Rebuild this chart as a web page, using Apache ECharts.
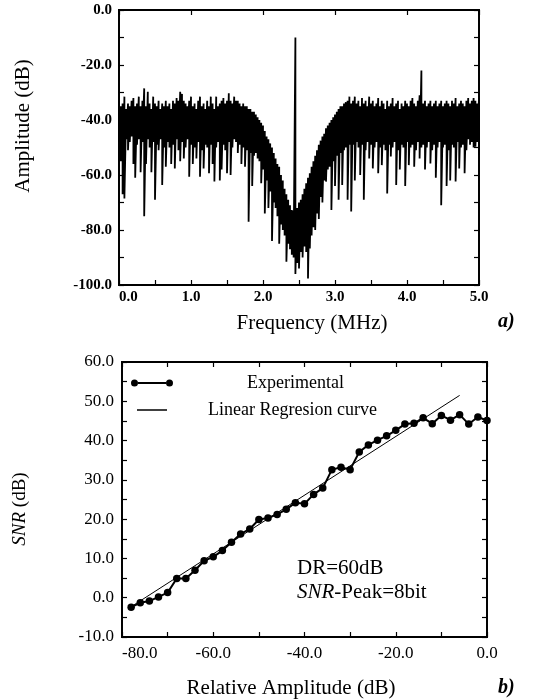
<!DOCTYPE html>
<html>
<head>
<meta charset="utf-8">
<script src="https://cdn.jsdelivr.net/npm/echarts@6/dist/echarts.min.js"></script>
<style>
html,body{margin:0;padding:0;background:#fff;}
#chart{width:536px;height:699px;}
</style>
</head>
<body>
<div id="chart"></div>
<script>
// ---------- Panel a) spectrum ----------
// bins every 0.025 MHz from 0.0 to 5.0 MHz (201 bins)
const FREQ_STEP = 0.025;
const freqTicks = ['0.0', '1.0', '2.0', '3.0', '4.0', '5.0'];
// upper edge of the noisy trace in each bin (dB)
const specUpper = [
  -33, -35, -34, -31.5, -36, -34, -35, -33, -32, -35,
  -34, -31.5, -35, -33, -28.5, -35, -29.7, -34, -36, -31.5,
  -34, -35, -33, -36, -34, -35, -33, -35, -34, -36,
  -33, -34, -32, -33, -29.7, -30.5, -33, -34, -35, -33,
  -31.5, -35, -34, -36, -33, -31.5, -35, -34, -36, -33,
  -35, -31.5, -34, -36, -31.5, -35, -34, -33, -32, -34,
  -33, -30.3, -33, -34, -31.5, -33, -33, -34, -35, -34,
  -35, -35, -36, -36, -37, -37, -38, -39, -40, -41,
  -42, -44, -46, -47, -48.5, -50, -52, -54, -56, -57,
  -60, -62, -65, -67, -69, -71, -72.7, -73, -10, -72,
  -70, -69, -67, -65, -63, -61, -59.4, -57, -55, -53,
  -51, -49, -47.5, -46, -45, -43, -42, -41, -40, -39,
  -38, -37, -36, -35, -35, -34, -33.5, -33, -31.5, -34,
  -33, -31.5, -34, -33, -35, -32, -34, -33, -35, -31.5,
  -34, -33, -35, -34, -32, -35, -33, -34, -36, -33,
  -35, -34, -32, -35, -34, -33, -36, -34, -35, -33,
  -34, -35, -33, -32, -34, -35, -33, -31, -22, -34,
  -33, -35, -34, -33, -35, -34, -33, -35, -34, -33,
  -35, -34, -33, -34, -35, -33, -34, -32, -35, -34,
  -33, -34, -35, -33, -32, -34, -33, -32, -33, -34,
  -32
];
// lower edge of the noisy trace in each bin (dB)
const specLower = [
  -48, -55, -67, -68.5, -47, -51, -48, -46, -56, -61,
  -49, -47, -59, -48, -75, -56, -47, -50, -59, -48,
  -69, -49, -51, -47, -63.6, -50, -57, -48, -50, -56,
  -49, -57.6, -47, -51, -55, -48, -54, -50, -47, -60.6,
  -49, -56, -50, -54, -48, -60.6, -51, -57.6, -49, -50,
  -59.4, -49, -56, -62.4, -50, -48, -62, -58, -49, -51,
  -59.4, -48, -60, -50, -47, -48, -52, -49, -56, -50,
  -57, -51, -77, -52, -64, -53, -52, -54, -55, -63,
  -58, -74, -62, -72, -66, -84, -70, -72, -75, -85,
  -78, -80, -82, -91.5, -85, -87, -89, -90, -96, -92,
  -94, -88, -90, -86, -88, -97.6, -86.7, -82, -79, -80,
  -74, -76, -68, -70, -62, -62.4, -58, -57, -72.7, -55,
  -64, -53, -69, -52, -63.6, -51, -50, -69, -49, -73.3,
  -49, -62, -48, -50, -60, -49, -69, -51, -48, -54,
  -49, -57.6, -50, -48, -59.4, -50, -56.4, -49, -51, -66.7,
  -49, -53.3, -50, -48, -63.6, -51, -58, -49, -50, -64,
  -48, -56.4, -50, -49, -57, -51, -48, -54, -50, -49,
  -58, -50, -48, -55.8, -51, -49, -61, -50, -48, -71,
  -50, -49, -64, -51, -62, -49, -50, -62.4, -48, -57.6,
  -50, -49, -59.4, -51, -47, -49, -48, -50, -49.7, -48,
  -52.7
];

// ---------- Panel b) SNR ----------
const ampTicks = ['-80.0', '-60.0', '-40.0', '-20.0', '0.0'];
const snrX = [-78, -76, -74, -72, -70, -68, -66, -64, -62, -60,
              -58, -56, -54, -52, -50, -48, -46, -44, -42, -40,
              -38, -36, -34, -32, -30, -28, -26, -24, -22, -20,
              -18, -16, -14, -12, -10, -8, -6, -4, -2, 0];
const snrY = [-2.4, -1.3, -0.85, 0.2, 1.3, 4.9, 4.9, 7.0, 9.4, 10.4,
              12.0, 14.1, 16.2, 17.5, 19.9, 20.3, 21.2, 22.5, 24.2, 23.9,
              26.3, 27.9, 32.6, 33.2, 32.6, 37.1, 38.9, 40.1, 41.2, 42.6,
              44.2, 44.4, 45.8, 44.3, 46.4, 45.2, 46.6, 44.2, 46.0, 45.1];
const regX = [-78, -6];
const regY = [-2.3, 51.5];

// ---------- build ----------
const FONT = '"Liberation Serif", "Times New Roman", serif';
const specData = [];
for (let i = 0; i < specUpper.length; i++) {
  const f = +(i * FREQ_STEP).toFixed(4);
  specData.push([f, specUpper[i]]);
  specData.push([f, specLower[i]]);
}
const expData = snrX.map((x, i) => [x, snrY[i]]);
const regData = regX.map((x, i) => [x, regY[i]]);

function axisBase(extra) {
  return Object.assign({
    type: 'value',
    splitLine: { show: false },
    axisLine: { show: true, onZero: false, lineStyle: { color: '#000', width: 1.8 } },
    axisTick: { show: true, inside: true, length: 5, lineStyle: { color: '#000', width: 1.2 } },
    minorTick: { show: true, splitNumber: 2, length: 5, lineStyle: { color: '#000', width: 1.2 } },
    minorSplitLine: { show: false }
  }, extra);
}
const fmt1 = v => v.toFixed(1);

const chart = echarts.init(document.getElementById('chart'), null, { renderer: 'canvas' });
chart.setOption({
  animation: false,
  backgroundColor: '#fff',
  grid: [
    { left: 119, top: 10, width: 360, height: 275, show: true, borderColor: '#000', borderWidth: 1.8, backgroundColor: 'transparent' },
    { left: 122, top: 362, width: 365, height: 275, show: true, borderColor: '#000', borderWidth: 1.8, backgroundColor: 'transparent' }
  ],
  xAxis: [
    axisBase({ gridIndex: 0, min: 0, max: 5, interval: 1, position: 'bottom',
      axisLabel: { show: true, color: '#000', fontFamily: FONT, fontSize: 15, fontWeight: 'bold', margin: 5,
        formatter: v => freqTicks[Math.round(v)], alignMinLabel: 'left' } }),
    axisBase({ gridIndex: 0, min: 0, max: 5, interval: 1, position: 'top',
      minorTick: { show: false }, axisLabel: { show: false } }),
    axisBase({ gridIndex: 1, min: -80, max: 0, interval: 20, position: 'bottom',
      axisLabel: { show: true, color: '#000', fontFamily: FONT, fontSize: 17, margin: 8,
        formatter: v => ampTicks[Math.round((v + 80) / 20)], alignMinLabel: 'left' } }),
    axisBase({ gridIndex: 1, min: -80, max: 0, interval: 20, position: 'top',
      axisLabel: { show: false } })
  ],
  yAxis: [
    axisBase({ gridIndex: 0, min: -100, max: 0, interval: 20, position: 'left',
      axisLabel: { show: true, color: '#000', fontFamily: FONT, fontSize: 15, fontWeight: 'bold', margin: 7, formatter: fmt1 } }),
    axisBase({ gridIndex: 0, min: -100, max: 0, interval: 20, position: 'right',
      axisLabel: { show: false } }),
    axisBase({ gridIndex: 1, min: -10, max: 60, interval: 10, position: 'left',
      axisLabel: { show: true, color: '#000', fontFamily: FONT, fontSize: 17, margin: 8, formatter: fmt1 } }),
    axisBase({ gridIndex: 1, min: -10, max: 60, interval: 10, position: 'right',
      axisLabel: { show: false } })
  ],
  legend: [
    {
      data: ['Experimental'], left: 131, top: 372, orient: 'vertical', padding: 0,
      itemWidth: 42, itemHeight: 7, selectedMode: false, symbolKeepAspect: false,
      icon: 'path://M0,3.5a3.5,3.5 0 1,0 7,0a3.5,3.5 0 1,0 -7,0zM35,3.5a3.5,3.5 0 1,0 7,0a3.5,3.5 0 1,0 -7,0zM7,2.5h28v2h-28z',
      formatter: n => '{p|' + n + '}',
      textStyle: { color: '#000', fontFamily: FONT, fontSize: 18, lineHeight: 22,
        rich: { p: { color: '#000', fontFamily: FONT, fontSize: 18, padding: [0, 0, 0, 69] } } }
    },
    {
      data: ['Linear Regresion curve'], left: 137, top: 399, orient: 'vertical', padding: 0,
      itemWidth: 30, itemHeight: 1.5, selectedMode: false, icon: 'rect',
      formatter: n => '{p|' + n + '}',
      textStyle: { color: '#000', fontFamily: FONT, fontSize: 18, lineHeight: 22,
        rich: { p: { color: '#000', fontFamily: FONT, fontSize: 18, padding: [0, 0, 0, 36] } } }
    }
  ],
  series: [
    {
      name: 'Spectrum', type: 'line', xAxisIndex: 0, yAxisIndex: 0,
      data: specData, symbol: 'none', showSymbol: false, silent: true,
      lineStyle: { color: '#000', width: 1.8 }, itemStyle: { color: '#000' }, clip: true
    },
    {
      name: 'Experimental', type: 'line', xAxisIndex: 2, yAxisIndex: 2,
      data: expData, symbol: 'circle', symbolSize: 7.5, showSymbol: true,
      lineStyle: { color: '#000', width: 2 }, itemStyle: { color: '#000' }
    },
    {
      name: 'Linear Regresion curve', type: 'line', xAxisIndex: 2, yAxisIndex: 2,
      data: regData, symbol: 'none', showSymbol: false,
      lineStyle: { color: '#000', width: 1 }, itemStyle: { color: '#000' }
    }
  ],
  graphic: [
    { type: 'text', x: 312, y: 323, silent: true,
      style: { text: 'Frequency (MHz)', fill: '#000', fontFamily: FONT, fontSize: 21,
        align: 'center', verticalAlign: 'middle', textAlign: 'center', textVerticalAlign: 'middle' } },
    { type: 'text', x: 498, y: 322, silent: true,
      style: { text: 'a)', fill: '#000', fontFamily: FONT, fontSize: 20, fontWeight: 'bold', fontStyle: 'italic',
        align: 'left', verticalAlign: 'middle', textAlign: 'left', textVerticalAlign: 'middle' } },
    { type: 'text', x: 23, y: 126, rotation: Math.PI / 2, silent: true,
      style: { text: 'Amplitude (dB)', fill: '#000', fontFamily: FONT, fontSize: 21,
        align: 'center', verticalAlign: 'middle', textAlign: 'center', textVerticalAlign: 'middle' } },
    { type: 'text', x: 291, y: 688, silent: true,
      style: { text: 'Relative Amplitude (dB)', fill: '#000', fontFamily: FONT, fontSize: 21,
        align: 'center', verticalAlign: 'middle', textAlign: 'center', textVerticalAlign: 'middle' } },
    { type: 'text', x: 498, y: 688, silent: true,
      style: { text: 'b)', fill: '#000', fontFamily: FONT, fontSize: 20, fontWeight: 'bold', fontStyle: 'italic',
        align: 'left', verticalAlign: 'middle', textAlign: 'left', textVerticalAlign: 'middle' } },
    { type: 'text', x: 20, y: 509, rotation: Math.PI / 2, silent: true,
      style: { text: '{i|SNR} (dB)', fill: '#000', fontFamily: FONT, fontSize: 19,
        align: 'center', verticalAlign: 'middle', textAlign: 'center', textVerticalAlign: 'middle',
        rich: { i: { fontFamily: FONT, fontSize: 19, fontStyle: 'italic', fill: '#000', color: '#000' } } } },
    { type: 'text', x: 297, y: 568, silent: true,
      style: { text: 'DR=60dB', fill: '#000', fontFamily: FONT, fontSize: 21,
        align: 'left', verticalAlign: 'middle', textAlign: 'left', textVerticalAlign: 'middle' } },
    { type: 'text', x: 297, y: 592, silent: true,
      style: { text: '{i|SNR}-Peak=8bit', fill: '#000', fontFamily: FONT, fontSize: 21,
        align: 'left', verticalAlign: 'middle', textAlign: 'left', textVerticalAlign: 'middle',
        rich: { i: { fontFamily: FONT, fontSize: 21, fontStyle: 'italic', fill: '#000', color: '#000' } } } }
  ]
});
</script>
</body>
</html>
